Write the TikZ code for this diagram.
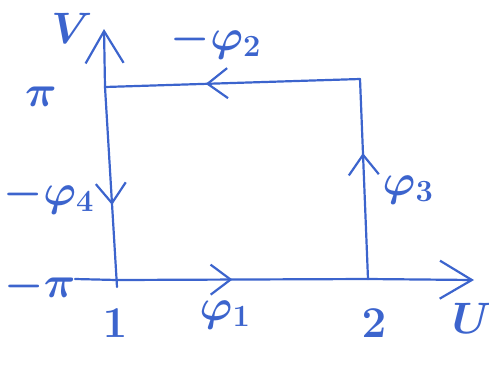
\RequirePackage{fix-cm}
\documentclass[tikz,border=0pt]{standalone}
\usetikzlibrary{arrows.meta,decorations.markings}
\definecolor{ink}{RGB}{60,100,205}
\begin{document}
\begin{tikzpicture}[x=1pt,y=-1pt,
  pen/.style={draw=ink,line width=2.2pt,line cap=round,line join=round},
  midarrow/.style={pen,postaction={decorate},decoration={markings,
     mark=at position #1 with {\arrow[ink,line width=2.2pt]{Straight Barb[length=20pt,width=30pt]}}}},
  lab/.style={text=ink,font=\fontsize{44}{48}\selectfont\boldmath,inner sep=0pt,anchor=base}]
\useasboundingbox (0,0) rectangle (489,376);
\coordinate (O) at (117,280);
\coordinate (Vbot) at (117,287);
\coordinate (Ustart) at (75,279);
\coordinate (c2) at (368,279);
\coordinate (Utip) at (474,280);
\coordinate (c3) at (360,79);
\coordinate (c4) at (105,87);
\coordinate (Vtip) at (104,29);
% axes
\draw[pen] (Ustart) -- (O);
\draw[pen,-{Straight Barb[length=32pt,width=38pt]}] (c2) -- (Utip);
\draw[pen,-{Straight Barb[length=32pt,width=38pt]}] (c4) -- (Vtip);
% cycle edges
\draw[midarrow=0.46] (O) -- (c2);
\draw[midarrow=0.63] (c2) -- (c3);
\draw[midarrow=0.605] (c3) -- (c4);
\draw[midarrow=0.59] (c4) -- (Vbot);
% labels
\node[lab] (lV) at (72,43) {$V$};
\node[lab] (lU) at (472,333) {$U$};
\node[lab] (lpi) at (41,106) {$\pi$};
\node[lab] (lmpi) at (40,297) {$-\pi$};
\node[lab] (l1) at (115,337) {$1$};
\node[lab] (l2) at (374,337) {$2$};
\node[lab] (phi1) at (225,320) {$\varphi_1$};
\node[lab] (phi2) at (216,50) {$-\varphi_2$};
\node[lab] (phi3) at (408,195) {$\varphi_3$};
\node[lab] (phi4) at (49,205) {$-\varphi_4$};
\end{tikzpicture}
\end{document}
